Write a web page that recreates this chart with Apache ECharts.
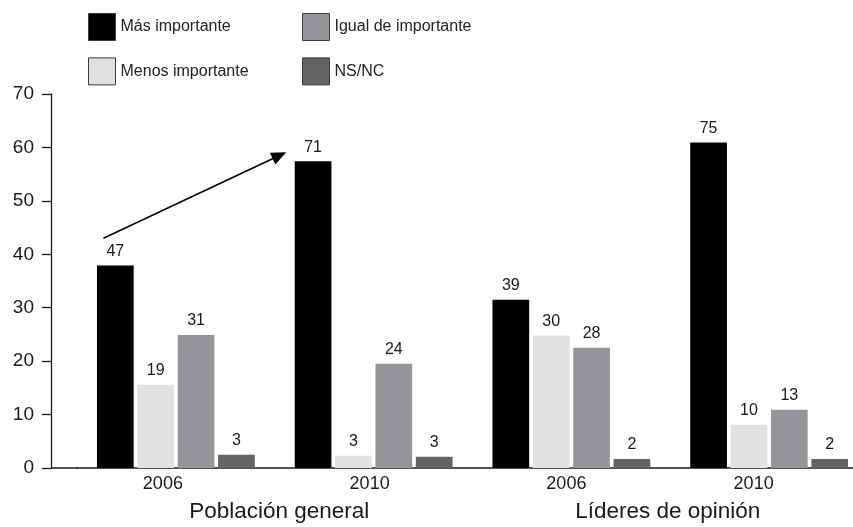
<!DOCTYPE html>
<html>
<head>
<meta charset="utf-8">
<script src="https://cdn.jsdelivr.net/npm/echarts@6/dist/echarts.min.js"></script>
<style>
html,body{margin:0;padding:0;background:#fff;}
#c{width:853px;height:527px;}
</style>
</head>
<body>
<div id="c"></div>
<script>
// ---- data ----
const categories = ['2006', '2010', '2006', '2010'];
const groups = ['Población general', 'Líderes de opinión'];
const seriesNames = ['Más importante', 'Menos importante', 'Igual de importante', 'NS/NC'];
// bar heights as drawn against the axis
const barMas    = [37.9, 57.4, 31.5, 60.9];
const barMenos  = [15.6, 2.3, 24.8, 8.1];
const barIgual  = [24.9, 19.5, 22.5, 10.9];
const barNsnc   = [2.5, 2.1, 1.7, 1.7];
// values printed above the bars
const labelMas   = [47, 71, 39, 75];
const labelMenos = [19, 3, 30, 10];
const labelIgual = [31, 24, 28, 13];
const labelNsnc  = [3, 3, 2, 2];
const yTicks = [0, 10, 20, 30, 40, 50, 60, 70];
// arrow annotation (value level of tail / head)
const arrowValues = [43.0, 59.1];

const colors = ['#000000', '#e1e1e2', '#949598', '#636466'];
const FONT = 'Liberation Sans, Arial, Helvetica, sans-serif';

const chart = echarts.init(document.getElementById('c'), null, {renderer: 'canvas'});

const bars = [barMas, barMenos, barIgual, barNsnc];
const labels = [labelMas, labelMenos, labelIgual, labelNsnc];

const yearShift = [26, 8, 10, 31]; // right padding -> shift label left
const rich = {};
yearShift.forEach((p, i) => { rich['s' + i] = {fontSize: 18, fontFamily: FONT, color: '#1a1a1a', padding: [0, p, 0, 0]}; });
const groupRich = {
  g0: {fontSize: 22.5, fontFamily: FONT, color: '#1a1a1a', padding: [0, 0, 0, 9]},
  g1: {fontSize: 22.5, fontFamily: FONT, color: '#1a1a1a', padding: [0, 5, 0, 0]}
};

const gridLeft = 77, gridTop = 94, gridBottom = 59, yOffset = 26;

const legendCommon = {
  orient: 'vertical', top: 13, padding: 0,
  icon: 'rect',
  itemWidth: 27, itemHeight: 27, itemGap: 16.4,
  selectedMode: false,
  textStyle: {fontSize: 16, color: '#222', fontFamily: FONT},
  itemStyle: {borderColor: '#3a3a3a', borderWidth: 1}
};

const option = {
  backgroundColor: '#ffffff',
  animation: false,
  textStyle: {fontFamily: FONT},
  legend: [
    Object.assign({data: [seriesNames[0], seriesNames[1]], left: 88}, legendCommon),
    Object.assign({data: [seriesNames[2], seriesNames[3]], left: 302}, legendCommon)
  ],
  grid: {left: gridLeft, width: 791, top: gridTop, bottom: gridBottom, containLabel: false, outerBoundsMode: 'none'},
  xAxis: [
    {
      type: 'category', data: categories, position: 'bottom',
      axisLine: {show: true, lineStyle: {color: '#1a1a1a', width: 1.5}},
      axisTick: {show: false},
      axisLabel: {
        margin: 7, fontSize: 18, color: '#1a1a1a', fontFamily: FONT,
        formatter: (v, i) => '{s' + i + '|' + v + '}', rich: rich
      },
      splitLine: {show: false}
    },
    {
      type: 'category', data: groups, position: 'bottom',
      axisLine: {show: false}, axisTick: {show: false},
      axisLabel: {
        margin: 32, fontSize: 22.5, color: '#1a1a1a', fontFamily: FONT,
        formatter: (v, i) => '{g' + i + '|' + v + '}', rich: groupRich
      },
      splitLine: {show: false}
    }
  ],
  yAxis: {
    type: 'value', min: 0, max: 70, interval: 10, offset: yOffset,
    axisLine: {show: true, lineStyle: {color: '#1a1a1a', width: 1.3}},
    axisTick: {show: true, length: 9, lineStyle: {color: '#1a1a1a', width: 1.3}},
    axisLabel: {
      margin: 17, fontSize: 19, color: '#1a1a1a', fontFamily: FONT,
      formatter: v => (yTicks.indexOf(v) >= 0 ? String(v) : '')
    },
    splitLine: {show: false}
  },
  series: bars.map((arr, si) => ({
    name: seriesNames[si],
    type: 'bar',
    xAxisIndex: 0,
    data: arr,
    barWidth: 36.7,
    barGap: '10%',
    itemStyle: {color: colors[si]},
    label: {
      show: true, position: 'top', distance: 6,
      fontSize: 16, color: '#1a1a1a', fontFamily: FONT,
      formatter: p => String(labels[si][p.dataIndex])
    }
  }))
};
chart.setOption(option);

// ---- annotations: x-axis stub to the y-axis, and the arrow ----
function barRect(si, di) {
  try {
    const l = chart.getModel().getSeriesByIndex(si).getData().getItemLayout(di);
    if (l && isFinite(l.x)) return l;
  } catch (e) {}
  return null;
}
const origin = chart.convertToPixel({xAxisIndex: 0, yAxisIndex: 0}, [0, 0]);
const b0 = barRect(0, 0), b1 = barRect(0, 1);
const pTail = chart.convertToPixel({xAxisIndex: 0, yAxisIndex: 0}, [0, arrowValues[0]]);
const pHead = chart.convertToPixel({xAxisIndex: 0, yAxisIndex: 0}, [1, arrowValues[1]]);
const tx = b0 ? b0.x + 6.5 : pTail[0] - 72.7;
const hx = b1 ? b1.x - 8.5 : pHead[0] - 87.3;
const tail = [tx, pTail[1]], tip = [hx, pHead[1]];
const dx = tip[0] - tail[0], dy = tip[1] - tail[1];
const len = Math.sqrt(dx * dx + dy * dy);
const ux = dx / len, uy = dy / len;
const hl = 15, hw = 6.5;
const base = [tip[0] - ux * hl, tip[1] - uy * hl];
const left = [base[0] - uy * hw, base[1] + ux * hw];
const right = [base[0] + uy * hw, base[1] - ux * hw];

chart.setOption({
  graphic: [
    {
      type: 'line', silent: true,
      shape: {x1: gridLeft - yOffset, y1: origin[1], x2: gridLeft + 1, y2: origin[1]},
      style: {stroke: '#1a1a1a', lineWidth: 1.5}
    },
    {
      type: 'line', silent: true,
      shape: {x1: tail[0], y1: tail[1], x2: base[0] + ux, y2: base[1] + uy},
      style: {stroke: '#000', lineWidth: 1.5}
    },
    {
      type: 'polygon', silent: true,
      shape: {points: [tip, left, right]},
      style: {fill: '#000'}
    }
  ]
});
</script>
</body>
</html>
